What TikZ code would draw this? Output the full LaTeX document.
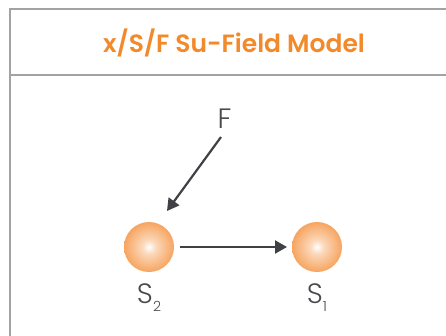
\documentclass[tikz,border=0pt]{standalone}
\usepackage{fontspec}
\setmainfont{Poppins}[UprightFont=* Light, BoldFont=* SemiBold]
\usetikzlibrary{arrows.meta}
\definecolor{ttlorange}{HTML}{F28A2C}
\definecolor{sphorange}{HTML}{F5903C}
\definecolor{framegray}{HTML}{A3A3A3}
\definecolor{arrowgray}{HTML}{404145}
\definecolor{txtgray}{HTML}{4A4A4E}
\pgfdeclareradialshading{sphshade}{\pgfpoint{0bp}{0bp}}{color(0bp)=(white); color(7bp)=(white!65!sphorange); color(32bp)=(sphorange); color(50bp)=(sphorange)}
\newcommand{\subsc}[1]{\raisebox{-8.5pt}{\fontsize{14}{15}\selectfont #1}}
\begin{document}
\begin{tikzpicture}[x=1pt,y=-1pt,
  frame/.style={draw=framegray,line width=2pt},
  sphere/.style={circle,minimum size=50pt,inner sep=0pt,shading=sphshade},
  lbl/.style={text=txtgray,font=\fontsize{28}{30}\selectfont,inner sep=0pt},
  conn/.style={draw=arrowgray,line width=2.2pt,-{Triangle[length=12pt,width=13pt]}}]
\useasboundingbox (0,0) rectangle (446,335);
\coordinate (tl) at (10,9);
\coordinate (tr) at (447,9);
\coordinate (bl) at (10,336);
\coordinate (hl) at (10,75);
\coordinate (hr) at (447,75);
\draw[frame] (bl) -- (tl) -- (tr);
\draw[frame] (hl) -- (hr);
\node[text=ttlorange,font=\bfseries\fontsize{25}{27}\selectfont,anchor=base] (title) at (234,52) {x/S/F Su-Field Model};
\node[sphere] (s2) at (149,247) {};
\node[sphere] (s1) at (317,247) {};
\node[lbl,anchor=base] (f) at (224.5,128) {F};
\node[lbl,anchor=base] (l2) at (149,303) {S\subsc{2}};
\node[lbl,anchor=base] (l1) at (317,303) {S\subsc{1}};
\coordinate (fs) at (221,137);
\coordinate (ft) at (167,211);
\coordinate (hs) at (180,247);
\coordinate (ht) at (287,247);
\draw[conn] (fs) -- (ft);
\draw[conn] (hs) -- (ht);
\end{tikzpicture}
\end{document}
